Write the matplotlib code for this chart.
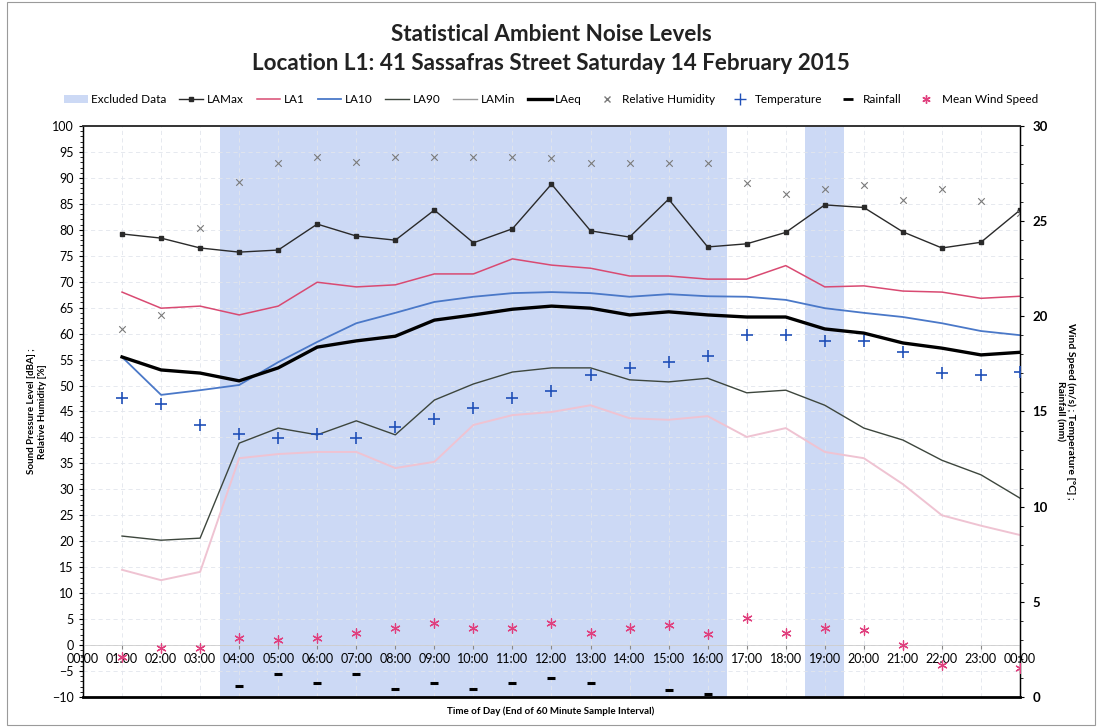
import matplotlib
matplotlib.use('Agg')
import matplotlib.pyplot as plt
from matplotlib.patches import Patch, Rectangle
from matplotlib.lines import Line2D

plt.rcParams['font.family'] = ['Lato', 'DejaVu Sans']

# hour ending of each 60 minute interval (01:00 .. 00:00 next day)
hours = [1, 2, 3, 4, 5, 6, 7, 8, 9, 10, 11, 12,
         13, 14, 15, 16, 17, 18, 19, 20, 21, 22, 23, 24]
tick_labels = ['00:00', '01:00', '02:00', '03:00', '04:00', '05:00', '06:00',
               '07:00', '08:00', '09:00', '10:00', '11:00', '12:00', '13:00',
               '14:00', '15:00', '16:00', '17:00', '18:00', '19:00', '20:00',
               '21:00', '22:00', '23:00', '00:00']

# excluded periods (start hour, end hour)
excluded_start = [3.5, 18.5]
excluded_end = [16.5, 19.5]

# noise levels, dBA
la_max = [79.2, 78.4, 76.5, 75.7, 76.1, 81.1, 78.8, 78.0, 83.8, 77.5, 80.2, 88.8,
          79.8, 78.6, 85.9, 76.7, 77.3, 79.5, 84.8, 84.3, 79.6, 76.5, 77.6, 83.8]
la1 = [68.0, 64.9, 65.3, 63.6, 65.3, 69.9, 69.0, 69.4, 71.5, 71.5, 74.4, 73.2,
       72.6, 71.1, 71.1, 70.5, 70.5, 73.1, 69.0, 69.2, 68.2, 68.0, 66.8, 67.2]
la10 = [55.5, 48.2, 49.1, 50.1, 54.5, 58.4, 62.0, 64.0, 66.1, 67.1, 67.8, 68.0,
        67.8, 67.1, 67.6, 67.2, 67.1, 66.5, 64.9, 64.0, 63.2, 62.0, 60.5, 59.7]
la90 = [21.0, 20.2, 20.6, 38.9, 41.8, 40.5, 43.2, 40.5, 47.2, 50.3, 52.6, 53.4,
        53.4, 51.1, 50.7, 51.4, 48.6, 49.1, 46.2, 41.8, 39.5, 35.6, 32.8, 28.3]
la_min = [14.5, 12.5, 14.1, 36.0, 36.8, 37.2, 37.2, 34.1, 35.3, 42.4, 44.3, 44.9,
          46.2, 43.7, 43.4, 44.1, 40.1, 41.8, 37.2, 36.0, 31.0, 25.0, 23.0, 21.2]
la_eq = [55.5, 53.0, 52.4, 50.9, 53.4, 57.4, 58.6, 59.5, 62.6, 63.6, 64.7, 65.3,
         64.9, 63.6, 64.2, 63.6, 63.2, 63.2, 60.9, 60.1, 58.2, 57.2, 55.9, 56.4]

# relative humidity, %
humidity = [60.9, 63.5, 80.3, 89.2, 92.9, 94.0, 93.1, 94.0, 94.0, 94.0, 94.0, 93.8,
            92.9, 92.9, 92.9, 92.9, 89.0, 86.9, 87.9, 88.6, 85.7, 87.9, 85.5, 83.2]

# right axis: temperature (C), rainfall (mm), wind speed (m/s)
temperature = [15.7, 15.4, 14.3, 13.8, 13.6, 13.8, 13.6, 14.2, 14.6, 15.2, 15.7, 16.1,
               16.9, 17.3, 17.6, 17.9, 19.0, 19.0, 18.7, 18.7, 18.1, 17.0, 16.9, 17.1]
rain_hours = [4, 5, 6, 7, 8, 9, 10, 11, 12, 13, 15, 16]
rainfall = [0.57, 1.2, 0.74, 1.2, 0.41, 0.74, 0.41, 0.74, 0.98, 0.74, 0.36, 0.16]
wind_speed = [2.1, 2.56, 2.56, 3.09, 3.0, 3.09, 3.35, 3.6, 3.87, 3.6, 3.6, 3.87,
              3.35, 3.6, 3.8, 3.3, 4.15, 3.35, 3.6, 3.5, 2.73, 1.66, None, 1.53]


def main():
    fig = plt.figure(figsize=(11.02, 7.27), dpi=100)
    ax = fig.add_axes([0.0753, 0.0413, 0.8503, 0.7854])
    ax2 = ax.twinx()

    # excluded data shading
    for s, e in zip(excluded_start, excluded_end):
        ax.axvspan(s, e, color='#ccd9f5', lw=0, zorder=0)

    ax.set_xlim(0, 24)
    ax.set_ylim(-10, 100)
    ax2.set_ylim(0, 30)

    # faint grid
    for y in range(-5, 100, 5):
        ax.axhline(y, color='#e2e5ec', lw=0.6, ls=(0, (5, 4)), zorder=0.5)
    for h in range(1, 24):
        ax.axvline(h, color='#e2e5ec', lw=0.6, ls=(0, (5, 4)), zorder=0.5)

    ax.plot(hours, la_max, color='#2a2a2a', lw=1.0, marker='s', ms=2.4, zorder=3)
    ax.plot(hours, la1, color='#d94a72', lw=1.1, zorder=3)
    ax.plot(hours, la10, color='#4a78c8', lw=1.3, zorder=3)
    ax.plot(hours, la90, color='#3d463d', lw=1.0, zorder=3)
    ax.plot(hours, la_min, color='#efc3d2', lw=1.4, zorder=3)
    ax.plot(hours, la_eq, color='black', lw=2.4, zorder=4)
    ax.scatter(hours, humidity, marker='x', s=22, color='#7a7a7a', lw=0.8, zorder=5)

    ax2.scatter(hours, temperature, marker='+', s=70, color='#2050b8', lw=1.2, zorder=5)
    ax2.scatter(rain_hours, rainfall, marker='_', s=40, color='black', lw=2.2, zorder=5)
    wh = [h for h, w in zip(hours, wind_speed) if w is not None]
    wv = [w for w in wind_speed if w is not None]
    ax2.scatter(wh, wv, marker=(6, 2, 0), s=45, color='#e0407e', lw=0.9, zorder=5)

    # x axis crosses the left axis at 0
    ax.spines['bottom'].set_position(('data', 0))
    ax.spines['bottom'].set_color('#cccccc')
    ax.spines['bottom'].set_linewidth(0.6)
    ax2.spines['bottom'].set_visible(False)
    ax.axhline(-10, color='black', lw=2.0, zorder=6, clip_on=False)
    for a in (ax, ax2):
        a.spines['top'].set_color('#333333')
        a.spines['top'].set_linewidth(1.2)
    ax.spines['left'].set_linewidth(1.0)
    ax2.spines['right'].set_linewidth(1.0)

    ax.set_xticks(range(25))
    ax.set_xticklabels(tick_labels, fontsize=9)
    ax.tick_params(axis='x', length=3, pad=3, color='#888888')
    ax.set_yticks(range(-10, 101, 5))
    ax.set_yticks(range(-10, 101, 1), minor=True)
    ax.tick_params(axis='y', labelsize=9, length=3)
    ax.tick_params(axis='y', which='minor', length=2)
    ax2.set_yticks(range(0, 31, 5))
    ax2.set_yticks(range(0, 31, 1), minor=True)
    ax2.tick_params(axis='y', labelsize=9.5, length=3, pad=6)
    ax2.tick_params(axis='y', which='minor', length=2)
    for t in ax2.get_yticklabels():
        t.set_fontweight('bold')

    ax.set_ylabel('Sound Pressure Level [dBA] ;\nRelative Humidity [%]',
                  fontsize=7, fontweight='bold', labelpad=4)
    ax2.set_ylabel('Wind Speed (m/s) ; Temperature [\u00b0C] ;\nRainfall (mm)',
                   fontsize=7.5, fontweight='bold', rotation=270, labelpad=20)
    fig.text(0.5, 0.022, 'Time of Day (End of 60 Minute Sample Interval)',
             ha='center', va='center', fontsize=7, fontweight='bold')

    fig.text(0.5, 0.953, 'Statistical Ambient Noise Levels',
             ha='center', va='center', fontsize=16.2, fontweight='bold', color='#222222')
    fig.text(0.5, 0.913, 'Location L1: 41 Sassafras Street Saturday 14 February 2015',
             ha='center', va='center', fontsize=16.2, fontweight='bold', color='#222222')

    handles = [
        Patch(facecolor='#ccd9f5', edgecolor='none'),
        Line2D([], [], color='#2a2a2a', lw=1.0, marker='s', ms=2.5),
        Line2D([], [], color='#d94a72', lw=1.1),
        Line2D([], [], color='#4a78c8', lw=1.3),
        Line2D([], [], color='#3d463d', lw=1.0),
        Line2D([], [], color='#9a9a9a', lw=1.0),
        Line2D([], [], color='black', lw=2.4),
        Line2D([], [], ls='none', marker='x', ms=5, color='#7a7a7a'),
        Line2D([], [], ls='none', marker='+', ms=8, color='#2050b8'),
        Line2D([], [], ls='none', marker='_', ms=7, mew=2, color='black'),
        Line2D([], [], ls='none', marker=(6, 2, 0), ms=6, color='#e0407e'),
    ]
    labels = ['Excluded Data', 'LAMax', 'LA1', 'LA10', 'LA90', 'LAMin', 'LAeq',
              'Relative Humidity', 'Temperature', 'Rainfall', 'Mean Wind Speed']
    fig.legend(handles, labels, loc='center', bbox_to_anchor=(0.5, 0.863), ncol=11,
               frameon=False, fontsize=8.5, handlelength=2.0, handletextpad=0.3,
               columnspacing=1.1)

    fig.patches.append(Rectangle((0.006, 0.003), 0.988, 0.994, transform=fig.transFigure,
                                 fill=False, edgecolor='#9a9a9a', lw=0.8))

    fig.savefig('out.png', dpi=100)
    plt.close(fig)


if __name__ == "__main__":
    main()
